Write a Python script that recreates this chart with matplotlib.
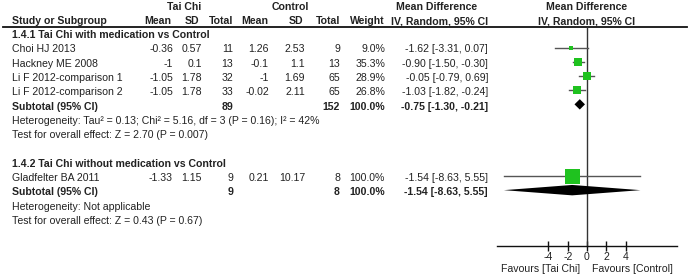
import numpy as np
import matplotlib
matplotlib.use("Agg")
import matplotlib.pyplot as plt

plt.rcParams['font.family'] = ['Liberation Sans', 'DejaVu Sans']

# ---------------- data ----------------
group1_title = "1.4.1 Tai Chi with medication vs Control"
studies1 = ["Choi HJ 2013", "Hackney ME 2008", "Li F 2012-comparison 1", "Li F 2012-comparison 2"]
tc_mean1 = [-0.36, -1, -1.05, -1.05]
tc_sd1 = [0.57, 0.1, 1.78, 1.78]
tc_n1 = [11, 13, 32, 33]
ct_mean1 = [1.26, -0.1, -1, -0.02]
ct_sd1 = [2.53, 1.1, 1.69, 2.11]
ct_n1 = [9, 13, 65, 65]
weight1 = [9.0, 35.3, 28.9, 26.8]
md1 = [-1.62, -0.90, -0.05, -1.03]
lo1 = [-3.31, -1.50, -0.79, -1.82]
hi1 = [0.07, -0.30, 0.69, -0.24]
sub1_n = (89, 152)
sub1 = (-0.75, -1.30, -0.21)
het1 = "Heterogeneity: Tau\u00b2 = 0.13; Chi\u00b2 = 5.16, df = 3 (P = 0.16); I\u00b2 = 42%"
test1 = "Test for overall effect: Z = 2.70 (P = 0.007)"

group2_title = "1.4.2 Tai Chi without medication vs Control"
studies2 = ["Gladfelter BA 2011"]
tc_mean2 = [-1.33]
tc_sd2 = [1.15]
tc_n2 = [9]
ct_mean2 = [0.21]
ct_sd2 = [10.17]
ct_n2 = [8]
weight2 = [100.0]
md2 = [-1.54]
lo2 = [-8.63]
hi2 = [5.55]
sub2_n = (9, 8)
sub2 = (-1.54, -8.63, 5.55)
het2 = "Heterogeneity: Not applicable"
test2 = "Test for overall effect: Z = 0.43 (P = 0.67)"

xticks = [-4, -2, 0, 2, 4]
fav_left = "Favours [Tai Chi]"
fav_right = "Favours [Control]"

# ---------------- layout ----------------
W, H = 689, 278
TXT = '#222222'
FS = 7.6
Y0, DY = 35.0, 14.3  # row 0 pixel centre, row spacing


def r(ypx):
    return (ypx - Y0) / DY


fig = plt.figure(figsize=(W / 100, H / 100), dpi=100)
ax = fig.add_axes([0, 0, 1, 1])
ax.set_xlim(0, W)
ax.set_ylim(r(H), r(0))
ax.axis('off')

# forest axes: x_px = 587 + 9.63 * value
X0PX, SC = 587.0, 9.63
fl, fr = 497.0, 677.0
fx = fig.add_axes([fl / W, 0, (fr - fl) / W, 1])
fx.set_xlim((fl - X0PX) / SC, (fr - X0PX) / SC)
fx.set_ylim(r(H), r(0))
fx.patch.set_alpha(0)
for s in ['top', 'right', 'left']:
    fx.spines[s].set_visible(False)
axis_r = r(246)
fx.spines['bottom'].set_position(('data', axis_r))
fx.spines['bottom'].set_color('#111111')
fx.spines['bottom'].set_linewidth(1.0)
fx.set_yticks([])
fx.set_xticks(xticks)
fx.set_xticklabels([str(t) for t in xticks])
fx.tick_params(axis='x', direction='inout', length=7, width=1.0, color='#111111',
               labelsize=FS, labelcolor=TXT, pad=1)

# column positions (right edges)
col_mean_tc, col_sd_tc, col_n_tc = 173, 202, 233
col_mean_ct, col_sd_ct, col_n_ct = 269, 305, 340
col_w, col_ci = 385, 488
left = 12


def t(x, row, s, ha='right', bold=False):
    ax.text(x, row, s, ha=ha, va='center', fontsize=FS, color=TXT,
            fontweight='bold' if bold else 'normal')


# headers
hr1, hr2 = r(7), r(21)
t(184, hr1, "Tai Chi", 'center', True)
t(290, hr1, "Control", 'center', True)
t(437, hr1, "Mean Difference", 'center', True)
t(587, hr1, "Mean Difference", 'center', True)
t(left, hr2, "Study or Subgroup", 'left', True)
t(171, hr2, "Mean", bold=True)
t(199, hr2, "SD", bold=True)
t(233, hr2, "Total", bold=True)
t(268, hr2, "Mean", bold=True)
t(303, hr2, "SD", bold=True)
t(340, hr2, "Total", bold=True)
t(385, hr2, "Weight", bold=True)
t(440, hr2, "IV, Random, 95% CI", 'center', True)
t(587, hr2, "IV, Random, 95% CI", 'center', True)
ax.plot([3, 687], [r(27), r(27)], color='#111111', lw=1.3)

# zero line
fx.plot([0, 0], [r(27), axis_r], color='#333333', lw=1.0)


def group(start, title, studies, tm, ts, tn, cm, cs, cn, w, md, lo, hi, subn, sub, het, test):
    t(left, start, title, 'left', True)
    for i in range(len(studies)):
        row = start + 1 + i
        t(left, row, studies[i], 'left')
        t(col_mean_tc, row, f"{tm[i]:g}")
        t(col_sd_tc, row, f"{ts[i]:g}")
        t(col_n_tc, row, f"{tn[i]}")
        t(col_mean_ct, row, f"{cm[i]:g}")
        t(col_sd_ct, row, f"{cs[i]:g}")
        t(col_n_ct, row, f"{cn[i]}")
        t(col_w, row, f"{w[i]:.1f}%")
        t(col_ci, row, f"{md[i]:.2f} [{lo[i]:.2f}, {hi[i]:.2f}]")
        my = row - 0.12
        fx.plot([lo[i], hi[i]], [my, my], color='#555555', lw=1.0, zorder=2)
        side = 15 * np.sqrt(w[i] / 100.0)
        fx.plot([md[i]], [my], marker='s', ms=side * 0.72, mfc='#1fc21f', mec='#1fc21f',
                mew=0, zorder=3)
    srow = start + 1 + len(studies)
    t(left, srow, "Subtotal (95% CI)", 'left', True)
    t(col_n_tc, srow, f"{subn[0]}", bold=True)
    t(col_n_ct, srow, f"{subn[1]}", bold=True)
    t(col_w, srow, "100.0%", bold=True)
    t(col_ci, srow, f"{sub[0]:.2f} [{sub[1]:.2f}, {sub[2]:.2f}]", bold=True)
    dy = srow - 0.15
    hh = 5.2 / DY
    fx.fill([sub[1], sub[0], sub[2], sub[0]], [dy, dy - hh, dy, dy + hh],
            color='black', lw=0, zorder=4)
    t(left, srow + 1, het, 'left')
    t(left, srow + 2, test, 'left')


group(0, group1_title, studies1, tc_mean1, tc_sd1, tc_n1, ct_mean1, ct_sd1, ct_n1,
      weight1, md1, lo1, hi1, sub1_n, sub1, het1, test1)
group(9, group2_title, studies2, tc_mean2, tc_sd2, tc_n2, ct_mean2, ct_sd2, ct_n2,
      weight2, md2, lo2, hi2, sub2_n, sub2, het2, test2)

# favours labels
fr_row = r(269)
t(580, fr_row, fav_left, 'right')
t(592, fr_row, fav_right, 'left')

fig.savefig("out.png", dpi=100, facecolor='white')
